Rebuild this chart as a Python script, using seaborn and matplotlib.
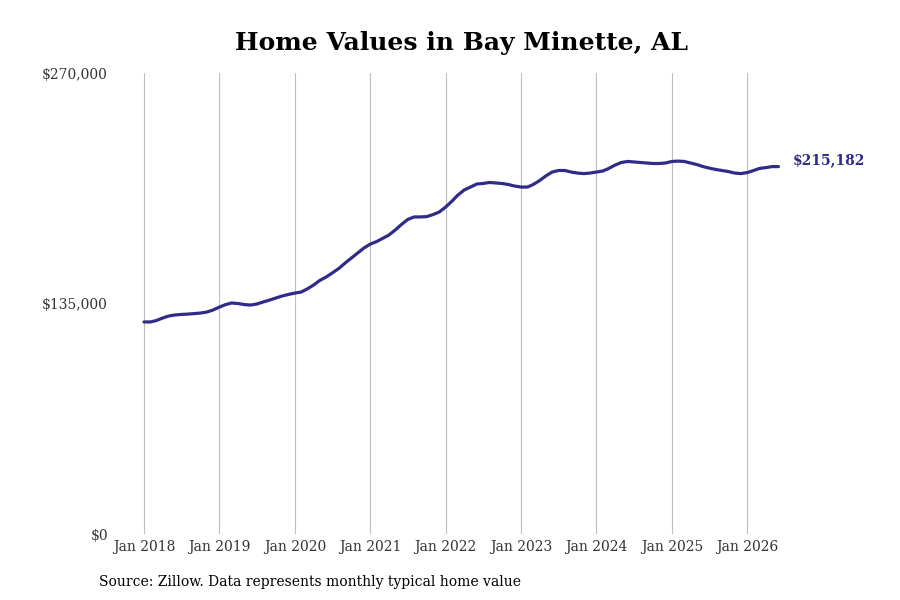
import matplotlib
matplotlib.use("Agg")
import matplotlib.pyplot as plt
import matplotlib.dates as mdates
import matplotlib.ticker as mticker
import seaborn as sns
import pandas as pd
import numpy as np

start_month = "2018-01-01"
values = [
    124200, 124200, 125000, 126500, 127700, 128300, 128600, 128800, 129100, 129400, 130000, 131200,
    132900, 134400, 135300, 135000, 134400, 134100, 134700, 135900, 137000, 138200, 139400, 140300,
    141100, 141700, 143500, 145800, 148500, 150500, 152900, 155500, 158700, 161600, 164600, 167500,
    169800, 171300, 173100, 175100, 178000, 181300, 184200, 185700, 185700, 185900, 187100, 188600,
    191500, 195000, 198500, 201500, 203200, 205000, 205300, 205900, 205600, 205300, 204700, 203800,
    203200, 203200, 204700, 207000, 209700, 212000, 212900, 212900, 212000, 211400, 211100, 211400,
    212000, 212600, 214100, 216100, 217600, 218200, 217900, 217600, 217300, 217000, 217000, 217300,
    218200, 218400, 218200, 217300, 216400, 215200, 214300, 213500, 212900, 212300, 211400, 211100,
    211700, 212900, 214100, 214600, 215200, 215182,
]
title = "Home Values in Bay Minette, AL"
source = "Source: Zillow. Data represents monthly typical home value"
y_ticks = [0, 135000, 270000]
x_tick_years = list(range(2018, 2027))
end_label = "$215,182"

dates = pd.date_range(start_month, periods=len(values), freq="MS")
df = pd.DataFrame({"date": dates, "value": values})

sns.set_theme(style="white")
plt.rcParams["font.family"] = ["DejaVu Serif"]

line_color = "#2f2b87"

fig = plt.figure(figsize=(9, 6), dpi=100)
ax = fig.add_axes([0.13, 0.11, 0.74, 0.7683])

sns.lineplot(data=df, x="date", y="value", ax=ax, color=line_color, linewidth=2.3)

x0 = mdates.date2num(pd.Timestamp("2018-01-01")) - 131
ax.set_xlim(x0, x0 + 3226)
ax.set_ylim(0, 270000)

ax.set_xticks([mdates.date2num(pd.Timestamp(f"{y}-01-01")) for y in x_tick_years])
ax.set_xticklabels([f"Jan {y}" for y in x_tick_years])
ax.set_yticks(y_ticks)
ax.yaxis.set_major_formatter(mticker.FuncFormatter(lambda v, p: f"${v:,.0f}"))

ax.grid(axis="x", color="#bdbdbd", linewidth=0.8)
ax.grid(axis="y", visible=False)
for s in ax.spines.values():
    s.set_visible(False)
ax.tick_params(axis="both", length=0, labelsize=10, colors="#333333")
ax.tick_params(axis="x", pad=4)
ax.tick_params(axis="y", pad=6.5)
ax.set_xlabel("")
ax.set_ylabel("")

ax.annotate(end_label, xy=(mdates.date2num(dates[-1]), values[-1]),
            xytext=(10, 4.5), textcoords="offset points", ha="left", va="center",
            fontsize=10, fontweight="bold", color=line_color)

fig.text(0.513, 0.928, title, ha="center", va="center", fontsize=18, fontweight="bold", color="black")
fig.text(0.11, 0.03, source, ha="left", va="center", fontsize=10, color="black")

fig.savefig("out.png", dpi=100)
